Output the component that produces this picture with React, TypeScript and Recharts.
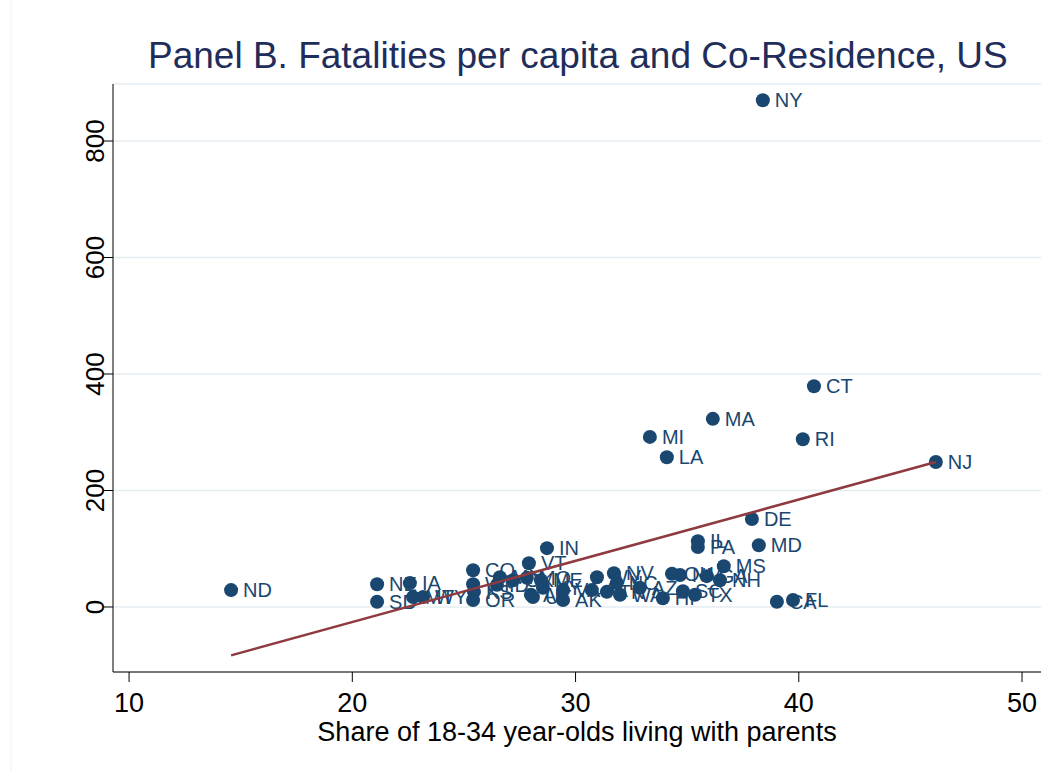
import React from "react";
import { ScatterChart, Scatter, XAxis, YAxis, CartesianGrid } from "recharts";

// co-residence share (x) and fatalities per capita (y), by state
const states = [
  "NY", "CT", "MA", "MI", "RI", "LA", "NJ", "DE", "IL", "PA",
  "MD", "IN", "VT", "CO", "MS", "ND", "NE", "SD", "IA", "MT",
  "WY", "WI", "KS", "OR", "CA", "FL", "HI", "TX", "SC", "NH",
  "GA", "NV", "AZ", "WA", "NM", "ME", "KY", "AK", "UT", "MN",
  "ID", "OK", "MO", "AR", "AL", "TN", "NC", "WV", "OH", "VA",
];
const coResidence = [
  38.39, 40.68, 36.15, 33.33, 40.18, 34.09, 46.14, 37.9, 35.48, 35.48,
  38.21, 28.72, 27.91, 25.41, 36.64, 14.57, 21.11, 21.11, 22.58, 22.72,
  23.17, 25.41, 25.45, 25.41, 39.02, 39.74, 33.91, 35.35, 34.81, 36.47,
  35.88, 31.72, 32.88, 31.99, 34.68, 28.45, 28.54, 29.44, 28.09, 26.61,
  26.48, 27.2, 27.82, 28.0, 30.73, 31.4, 31.85, 30.96, 34.32, 29.44,
];
const fatalities = [
  870, 379, 323, 292, 288, 257, 249, 151, 113, 103,
  106, 101, 75, 63, 70, 29, 39, 9, 41, 17,
  17, 39, 26, 12, 9, 12, 15, 21, 27, 46,
  53, 58, 33, 21, 55, 46, 33, 12, 17, 51,
  38, 46, 50, 21, 29, 26, 41, 51, 57, 29,
];

// fitted line end points
const fitX = [14.57, 46.14];
const fitY = [-83, 249];

const xTicks = [10, 20, 30, 40, 50];
const yTicks = [0, 200, 400, 600, 800];

const points = states.map((s, i) => ({ state: s, x: coResidence[i], y: fatalities[i] }));
const fitLine = fitX.map((x, i) => ({ x, y: fitY[i] }));

const FONT = "'Liberation Sans', Arial, Helvetica, sans-serif";
const NAVY = "#1a476f";

const StateDot = (props: any) => {
  const { cx, cy, payload } = props;
  return (
    <g>
      <circle cx={cx} cy={cy} r={7} fill={NAVY} />
      <text x={cx + 12} y={cy + 7} fontSize={20} fill={NAVY} fontFamily={FONT}>
        {payload.state}
      </text>
    </g>
  );
};

const XTick = ({ x, y, payload }: any) => (
  <text x={x} y={y + 28} textAnchor="middle" fontSize={27} fill="#000" fontFamily={FONT}>
    {payload.value}
  </text>
);

const YTick = ({ x, y, payload }: any) => (
  <text
    x={x + 3}
    y={y}
    transform={`rotate(-90, ${x + 3}, ${y})`}
    textAnchor="middle"
    fontSize={26}
    fill="#000"
    fontFamily={FONT}
  >
    {payload.value}
  </text>
);

export default function App() {
  return (
    <div style={{ position: "absolute", left: 0, top: 0, width: 1053, height: 772, background: "#fff" }}>
      <ScatterChart width={1053} height={772} margin={{ top: 84, right: 12, bottom: 0, left: 0 }}>
        <CartesianGrid vertical={false} stroke="#e4edf0" strokeWidth={1.5} />
        <XAxis
          type="number"
          dataKey="x"
          domain={[9.28, 50.85]}
          ticks={xTicks}
          allowDataOverflow
          height={100}
          stroke="#000"
          tickSize={10}
          tick={<XTick />}
          label={{
            value: "Share of 18-34 year-olds living with parents",
            position: "insideBottom",
            offset: 31,
            fontSize: 27,
            fill: "#000",
            fontFamily: FONT,
          }}
        />
        <YAxis
          type="number"
          dataKey="y"
          domain={[-111.6, 897.9]}
          ticks={yTicks}
          allowDataOverflow
          width={113}
          stroke="#000"
          tickSize={10}
          tick={<YTick />}
        />
        <Scatter data={points} shape={<StateDot />} isAnimationActive={false} />
        <Scatter
          data={fitLine}
          line={{ stroke: "#8e3a3f", strokeWidth: 2.5 }}
          shape={() => <g />}
          isAnimationActive={false}
        />
      </ScatterChart>
      <svg width={1053} height={772} style={{ position: "absolute", left: 0, top: 0, pointerEvents: "none" }}>
        <line x1={11} y1={0} x2={11} y2={772} stroke="#eef4f5" strokeWidth={1} />
        <text x={148} y={68} fontSize={37} fill="#1f2d5a" fontFamily={FONT}>
          Panel B. Fatalities per capita and Co-Residence, US
        </text>
      </svg>
    </div>
  );
}
